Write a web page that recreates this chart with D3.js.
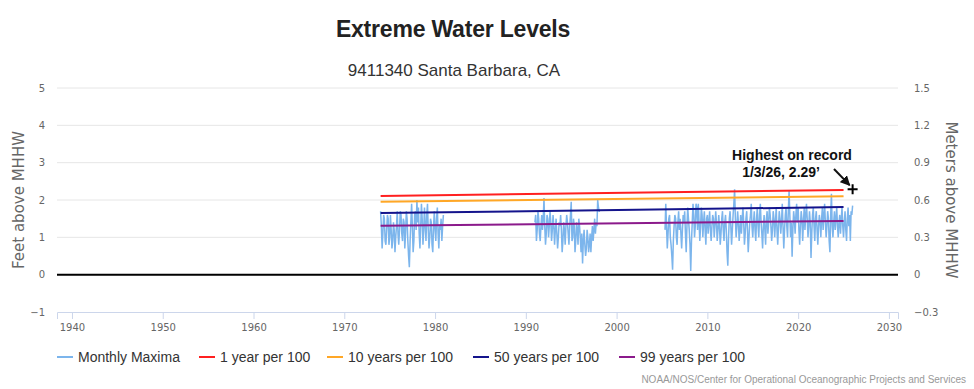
<!DOCTYPE html>
<html lang="en">
<head>
<meta charset="utf-8">
<script src="https://cdnjs.cloudflare.com/ajax/libs/d3/7.8.5/d3.min.js"></script>
<style>
  body { margin: 0; background: #fff; }
  svg { display: block; font-family: "Liberation Sans", Arial, sans-serif; }
  .tick text { fill: #666; font-family: "DejaVu Sans", sans-serif; font-size: 10px; }
  .legend text { font-family: "Liberation Sans", sans-serif; font-size: 14px; fill: #333; }
</style>
</head>
<body>
<svg width="974" height="389"></svg>
<script>
// --- data (feet above MHHW) ---
const seg1Start = 1974.0
const seg1 = [
  1.7, 1.3, 0.7, 1.1, 1.6, 1.5, 0.9, 0.8, 1.2, 1.6, 1.5, 0.8,
  1.0, 1.6, 1.2, 0.7, 0.9, 1.4, 1.2, 0.6, 1.0, 1.3, 1.7, 1.1,
  0.8, 1.2, 1.7, 1.6, 1.1, 0.9, 1.5, 1.4, 0.7, 1.1, 1.7, 1.5,
  0.9, 0.5, 0.2, 0.9, 1.4, 1.9, 1.3, 0.6, 0.9, 1.6, 1.7, 1.2,
  2.0, 1.4, 1.8, 1.1, 0.7, 1.3, 1.9, 1.5, 0.8, 1.2, 1.8, 1.3,
  0.9, 1.6, 1.9, 1.2, 0.7, 1.0, 1.5, 1.4, 0.8, 0.6, 1.3, 1.7,
  1.2, 0.9, 1.5, 1.8, 1.1, 0.7, 1.3, 1.2, 1.5, 0.9, 1.3, 1.6
]
const seg2Start = 1991.0
const seg2 = [
  1.4, 1.6, 0.9, 1.2, 1.7, 1.5, 1.1, 0.9, 1.3, 1.6, 1.2, 1.5,
  2.05, 1.3, 0.8, 1.1, 1.6, 1.5, 1.0, 1.3, 1.7, 1.4, 0.9, 1.2,
  1.6, 1.3, 0.8, 1.2, 1.5, 1.1, 0.7, 1.0, 1.4, 1.3, 1.6, 1.2,
  0.6, 0.9, 1.4, 1.2, 0.8, 1.3, 1.6, 1.4, 1.1, 0.8, 1.3, 1.6,
  1.95, 0.9, 1.0, 1.5, 1.3, 0.6, 0.9, 1.4, 1.2, 0.8, 1.5, 1.3,
  1.0, 0.6, 1.1, 0.3, 0.9, 1.2, 0.8, 0.5, 0.7, 1.2, 1.0, 0.6,
  0.8, 1.1, 0.6, 1.0, 1.3, 0.9, 1.2, 1.5, 1.1, 1.4, 1.3, 2.0,
  1.8, 1.7, 1.7
]
const seg3Start = 2005 + 4 / 12
const seg3 = [
  1.2, 1.9, 1.3, 0.7, 1.1, 1.5, 1.6, 1.0,
  0.8, 0.5, 0.13, 0.9, 1.3, 1.6, 1.5, 1.0, 0.8, 1.4, 1.7, 1.2,
  1.5, 1.1, 0.7, 1.2, 1.6, 1.4, 1.7, 1.1, 0.6, 1.3, 1.8, 1.5,
  1.2, 0.8, 0.1, 0.9, 1.4, 1.9, 1.6, 1.0, 1.3, 1.9, 1.8, 1.2,
  1.9, 1.4, 0.9, 1.3, 1.8, 1.6, 1.0, 1.4, 1.7, 1.2, 0.8, 1.5,
  1.6, 1.1, 1.4, 1.7, 1.2, 0.9, 1.3, 1.6, 1.5, 1.0, 1.3, 1.7,
  1.4, 0.9, 1.2, 1.6, 1.3, 0.8, 1.1, 1.5, 1.7, 1.2, 0.9, 1.4,
  1.6, 1.2, 0.6, 0.24, 1.0, 1.5, 1.7, 1.3, 0.8, 1.2, 1.6, 1.9,
  2.29, 1.5, 1.0, 1.3, 1.7, 1.4, 0.9, 1.2, 1.6, 1.1, 1.5, 1.8,
  1.4, 0.8, 1.1, 1.5, 1.7, 1.2, 0.6, 1.0, 1.4, 1.6, 1.9, 1.3,
  1.0, 1.4, 1.7, 1.2, 0.9, 1.5, 1.8, 1.3, 1.0, 1.6, 1.9, 1.4,
  1.1, 0.7, 1.3, 1.6, 1.2, 0.8, 1.5, 1.7, 1.1, 1.4, 1.8, 1.6,
  1.3, 0.9, 1.2, 1.7, 1.5, 1.0, 1.4, 1.8, 1.2, 0.8, 1.3, 1.7,
  1.5, 1.1, 1.4, 1.9, 1.3, 0.7, 1.2, 1.6, 1.8, 1.3, 1.0, 1.7,
  2.24, 1.6, 1.0, 1.4, 0.48, 1.2, 1.7, 1.5, 1.1, 1.6, 1.9, 1.4,
  1.8, 1.2, 0.8, 1.3, 1.7, 1.5, 0.9, 1.4, 1.8, 1.2, 1.6, 1.9,
  1.5, 1.0, 1.3, 1.7, 1.4, 0.45, 1.1, 1.6, 1.8, 1.3, 0.9, 1.5,
  1.7, 1.2, 0.8, 1.3, 1.6, 1.4, 1.0, 1.5, 1.8, 1.2, 1.6, 1.9,
  1.4, 1.0, 1.3, 1.7, 1.5, 0.9, 0.6, 1.6, 2.17, 1.3, 1.0, 1.4,
  1.7, 1.2, 1.5, 1.8, 1.3, 1.0, 1.4, 1.6, 1.1, 1.5, 1.8, 1.3,
  1.0, 1.4, 1.7, 1.2, 0.9, 1.5, 1.8, 1.3, 1.6, 0.9, 1.7, 1.6,
  1.85
]
const trendYears = [1974, 2025]
const trends = [
  { name: '1 year per 100', color: '#ff2020', values: [2.11, 2.27] },
  { name: '10 years per 100', color: '#ffa726', values: [1.95, 2.10] },
  { name: '50 years per 100', color: '#14148c', values: [1.65, 1.81] },
  { name: '99 years per 100', color: '#8b1a8b', values: [1.31, 1.44] }
]
const feetTicks = [-1, 0, 1, 2, 3, 4, 5]
const meterTicks = [-0.3, 0, 0.3, 0.6, 0.9, 1.2, 1.5]
const yearTicks = [1940, 1950, 1960, 1970, 1980, 1990, 2000, 2010, 2020, 2030]
const record = { year: 2026.0, value: 2.29, label1: 'Highest on record', label2: '1/3/26, 2.29\u2019' }

const svg = d3.select('svg')
const pLeft = 57, pRight = 898, pTop = 88, pBottom = 312

const x = d3.scaleLinear().domain([1938.35, 2031.0]).range([pLeft, pRight])
const y = d3.scaleLinear().domain([-1, 5]).range([pBottom, pTop])
const yM = d3.scaleLinear().domain([-0.3, 1.5]).range([pBottom, pTop])

// titles
svg.append('text').attr('x', 453).attr('y', 37).attr('text-anchor', 'middle')
  .style('font-size', '23px').style('font-weight', 'bold').style('fill', '#222')
  .style('letter-spacing', '-0.2px')
  .text('Extreme Water Levels')
svg.append('text').attr('x', 454).attr('y', 76).attr('text-anchor', 'middle')
  .style('font-size', '17px').style('fill', '#333')
  .text('9411340 Santa Barbara, CA')

// gridlines
svg.append('g').selectAll('line').data(feetTicks.filter(d => d > -1)).enter().append('line')
  .attr('x1', pLeft).attr('x2', pRight)
  .attr('y1', d => y(d)).attr('y2', d => y(d))
  .attr('stroke', '#e6e6e6').attr('stroke-width', 1)

// left axis
const yAxis = svg.append('g').attr('transform', 'translate(' + (pLeft - 12) + ',0)')
  .call(d3.axisLeft(y).tickValues(feetTicks).tickSize(0).tickPadding(0).tickFormat(d => d < 0 ? '\u2212' + Math.abs(d) : d))
yAxis.select('.domain').remove()

// right axis
const yAxisR = svg.append('g').attr('transform', 'translate(' + (pRight + 16) + ',0)')
  .call(d3.axisRight(yM).tickValues(meterTicks).tickSize(0).tickPadding(0)
    .tickFormat(d => d < 0 ? '\u2212' + Math.abs(d) : (d === 0 ? '0' : d3.format('.1f')(d))))
yAxisR.select('.domain').remove()

// axis titles
svg.append('text').attr('transform', 'translate(24,200) rotate(-90)').attr('text-anchor', 'middle')
  .style('font-family', '"DejaVu Sans", sans-serif').style('font-size', '15px').style('fill', '#666')
  .text('Feet above MHHW')
svg.append('text').attr('transform', 'translate(946,200) rotate(90)').attr('text-anchor', 'middle')
  .style('font-family', '"DejaVu Sans", sans-serif').style('font-size', '15px').style('fill', '#666')
  .text('Meters above MHHW')

// x axis
const xAxis = svg.append('g').attr('transform', 'translate(0,' + pBottom + ')')
  .call(d3.axisBottom(x).tickValues(yearTicks).tickSize(7).tickPadding(5).tickFormat(d3.format('d')))
xAxis.select('.domain').attr('stroke', '#ccd6eb')
xAxis.selectAll('.tick line').attr('stroke', '#ccd6eb')

// zero line
svg.append('line').attr('x1', pLeft).attr('x2', pRight).attr('y1', y(0)).attr('y2', y(0))
  .attr('stroke', '#000').attr('stroke-width', 2)

// monthly maxima
const line = d3.line().x(d => x(d[0])).y(d => y(d[1]))
const segs = [[seg1Start, seg1], [seg2Start, seg2], [seg3Start, seg3]]
segs.forEach(s => {
  const pts = s[1].map((v, i) => [s[0] + i / 12, v])
  svg.append('path').datum(pts).attr('d', line)
    .attr('fill', 'none').attr('stroke', '#7cb5ec').attr('stroke-width', 1.5)
})

// trend lines
trends.forEach(t => {
  const pts = trendYears.map((yr, i) => [yr, t.values[i]])
  svg.append('path').datum(pts).attr('d', line)
    .attr('fill', 'none').attr('stroke', t.color).attr('stroke-width', 2)
})

// record marker + annotation
const rx = x(record.year), ry = y(record.value)
svg.append('path').attr('d', `M${rx - 5},${ry}H${rx + 5}M${rx},${ry - 5}V${ry + 5}`)
  .attr('stroke', '#000').attr('stroke-width', 2)
svg.append('text').attr('x', 792).attr('y', 160).attr('text-anchor', 'middle')
  .style('font-size', '14px').style('font-weight', 'bold').style('fill', '#111').text(record.label1)
svg.append('text').attr('x', 820).attr('y', 177).attr('text-anchor', 'end')
  .style('font-size', '14px').style('font-weight', 'bold').style('fill', '#111').text(record.label2)
svg.append('defs').append('marker').attr('id', 'ah').attr('viewBox', '0 0 10 10')
  .attr('refX', 9).attr('refY', 5).attr('markerWidth', 5).attr('markerHeight', 5).attr('orient', 'auto')
  .append('path').attr('d', 'M0,0L10,5L0,10z').attr('fill', '#111')
svg.append('line').attr('x1', 834).attr('y1', 169).attr('x2', rx - 3).attr('y2', ry - 4)
  .attr('stroke', '#111').attr('stroke-width', 2).attr('marker-end', 'url(#ah)')

// legend
const legendX = [57, 199, 327, 473, 619]
const legendItems = [{ name: 'Monthly Maxima', color: '#7cb5ec' }].concat(trends)
const lg = svg.append('g').attr('class', 'legend')
legendItems.forEach((d, i) => {
  lg.append('line').attr('x1', legendX[i]).attr('x2', legendX[i] + 16).attr('y1', 357).attr('y2', 357)
    .attr('stroke', d.color).attr('stroke-width', 2)
  lg.append('text').attr('x', legendX[i] + 21).attr('y', 362).text(d.name)
})

// credits
svg.append('text').attr('x', 966).attr('y', 383).attr('text-anchor', 'end')
  .style('font-size', '10px').style('fill', '#999')
  .text('NOAA/NOS/Center for Operational Oceanographic Projects and Services')
</script>
</body>
</html>
